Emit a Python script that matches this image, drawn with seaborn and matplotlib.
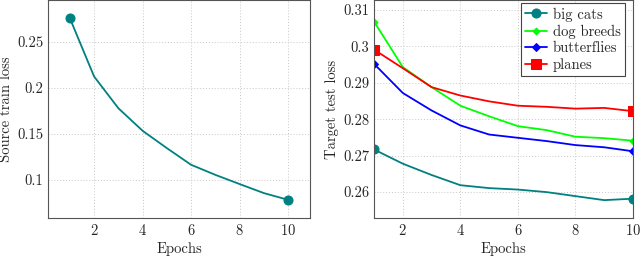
import numpy as np
import pandas as pd
import matplotlib
matplotlib.use("Agg")
import matplotlib.pyplot as plt
import seaborn as sns

# data
epochs = [1, 2, 3, 4, 5, 6, 7, 8, 9, 10]
source_train = [0.2757, 0.2124, 0.178, 0.1535, 0.1347, 0.1166, 0.1057, 0.0957, 0.0859, 0.0786]

big_cats = [0.2717, 0.2678, 0.2647, 0.2619, 0.2611, 0.2607, 0.2600, 0.2589, 0.2578, 0.2582]
dog_breeds = [0.3068, 0.2943, 0.2888, 0.2837, 0.2808, 0.2781, 0.2770, 0.2752, 0.2748, 0.2741]
butterflies = [0.2952, 0.2872, 0.2824, 0.2783, 0.2758, 0.2749, 0.2740, 0.2729, 0.2723, 0.2712]
planes = [0.2991, 0.2940, 0.2888, 0.2865, 0.2849, 0.2837, 0.2834, 0.2829, 0.2831, 0.2822]

sns.set_style("white")
plt.rcParams["font.family"] = "serif"
plt.rcParams["font.serif"] = ["cmr10", "DejaVu Serif"]
plt.rcParams["axes.formatter.use_mathtext"] = True
plt.rcParams["font.size"] = 10.5

teal = (0, 0.5, 0.5)

fig = plt.figure(figsize=(6.4, 2.56), dpi=100)
ax1 = fig.add_axes([48 / 640, 1 - 218 / 256, 262 / 640, 218 / 256])
ax2 = fig.add_axes([374 / 640, 1 - 218 / 256, 259 / 640, 218 / 256])

# left panel
df1 = pd.DataFrame({"epoch": epochs, "loss": source_train})
sns.lineplot(data=df1, x="epoch", y="loss", ax=ax1, color=teal, lw=1.3,
             marker="o", markersize=6.5, markevery=[0, -1], mec=teal)
ax1.set_xlim(0.1, 10.9)
ax1.set_ylim(0.0589, 0.2954)
ax1.set_xticks([2, 4, 6, 8, 10])
ax1.set_yticks([0.1, 0.15, 0.2, 0.25])
ax1.set_yticklabels(["0.1", "0.15", "0.2", "0.25"])
ax1.set_xlabel("Epochs", labelpad=3)
ax1.set_ylabel("Source train loss", labelpad=3)

# right panel
series = [
    ("big cats", big_cats, teal, "o", 6.5),
    ("dog breeds", dog_breeds, (0, 1, 0), "D", 3.5),
    ("butterflies", butterflies, (0, 0, 1), "D", 4.2),
    ("planes", planes, (1, 0, 0), "s", 6.5),
]
for name, vals, c, m, ms in series:
    d = pd.DataFrame({"epoch": epochs, "loss": vals})
    sns.lineplot(data=d, x="epoch", y="loss", ax=ax2, color=c, lw=1.3,
                 marker=m, markersize=ms, markevery=[0, -1], mec=c, label=name)
ax2.set_xlim(1, 10)
ax2.set_ylim(0.2529, 0.3127)
ax2.set_xticks([2, 4, 6, 8, 10])
ax2.set_yticks([0.26, 0.27, 0.28, 0.29, 0.30, 0.31])
ax2.set_yticklabels(["0.26", "0.27", "0.28", "0.29", "0.3", "0.31"])
ax2.set_xlabel("Epochs", labelpad=3)
ax2.set_ylabel("Target test loss", labelpad=3)
leg = ax2.legend(loc="upper right", bbox_to_anchor=(1 - 8 / 259, 1 - 3 / 218),
                 fancybox=False, framealpha=1, edgecolor="#444444",
                 borderpad=0.3, labelspacing=0.2, handlelength=1.5, handletextpad=0.4,
                 borderaxespad=0)
leg.get_frame().set_linewidth(0.8)

for ax in (ax1, ax2):
    ax.grid(True, linestyle=(0, (1, 2)), color="#c8c8c8", lw=0.7)
    for s in ax.spines.values():
        s.set_color("#555555")
        s.set_linewidth(0.8)
    ax.tick_params(length=0, pad=3.5)

fig.savefig("out.png", dpi=100)
